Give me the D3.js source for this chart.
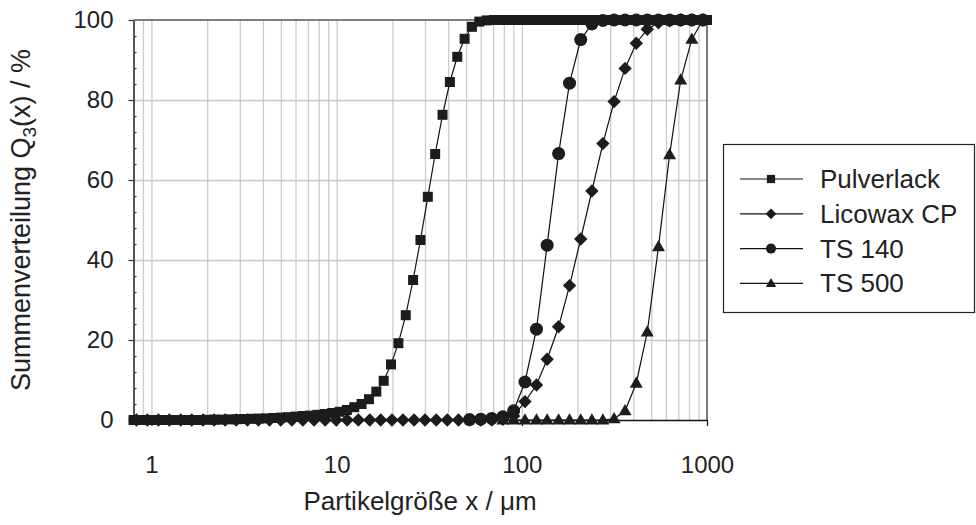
<!DOCTYPE html>
<html>
<head>
<meta charset="utf-8">
<script src="https://cdn.jsdelivr.net/npm/d3@7"></script>
<style>
  html, body { margin: 0; padding: 0; background: #fff; }
  svg { display: block; font-family: "Liberation Sans", Arial, sans-serif; }
</style>
</head>
<body>
<svg id="chart" width="976" height="525"></svg>
<script>
// Particle size classes of the powder coating measurement (µm)
const sizesPulverlack = [
  0.800, 0.877, 0.961, 1.053, 1.153, 1.264, 1.385, 1.518, 1.663, 1.823,
  1.997, 2.189, 2.398, 2.628, 2.880, 3.156, 3.458, 3.789, 4.152, 4.550,
  4.986, 5.463, 5.987, 6.560, 7.189, 7.878, 8.633, 9.459, 10.37, 11.36,
  12.45, 13.64, 14.95, 16.38, 17.95, 19.67, 21.55, 23.62, 25.88, 28.36,
  31.08, 34.05, 37.32, 40.89, 44.81, 49.10, 53.80, 58.95, 64.60, 70.79,
  77.57, 85.00, 93.14, 102.1, 111.8, 122.5, 134.3, 147.2, 161.3, 176.7,
  193.6, 212.2, 232.5, 254.8, 279.2, 305.9, 335.2, 367.4, 402.6, 441.1,
  483.4, 529.7, 580.4, 636.0, 697.0, 763.7, 836.8, 917.0, 1000
];
// Cumulative distribution Q3 of the powder coating (%)
const q3Pulverlack = [
  0, 0, 0, 0, 0, 0, 0, 0, 0, 0,
  0.05, 0.1, 0.1, 0.15, 0.2, 0.25, 0.3, 0.35, 0.4, 0.5,
  0.6, 0.7, 0.85, 1.0, 1.1, 1.3, 1.5, 1.75, 2.05, 2.5,
  3.2, 4.0, 5.2, 7.1, 9.8, 13.9, 19.2, 26.2, 35.0, 45.0,
  55.8, 66.5, 76.3, 84.5, 90.8, 95.3, 98.3, 99.6, 99.9, 100,
  100, 100, 100, 100, 100, 100, 100, 100, 100, 100,
  100, 100, 100, 100, 100, 100, 100, 100, 100, 100,
  100, 100, 100, 100, 100, 100, 100, 100, 100
];

// Size classes shared by the wax and the two TS measurements (µm)
const sizeClasses = [
  0.83, 0.95, 1.09, 1.25, 1.44, 1.65, 1.90, 2.18, 2.50, 2.87,
  3.30, 3.78, 4.34, 4.99, 5.73, 6.57, 7.55, 8.67, 9.95, 11.4,
  13.1, 15.1, 17.3, 19.9, 22.8, 26.2, 30.0, 34.5, 39.6, 45.5,
  52.2, 60.0, 68.8, 79.0, 90.3, 104, 120, 137, 158, 181,
  208, 239, 274, 315, 361, 415, 476, 547, 628, 721,
  828, 950
];
const q3Licowax = [
  0, 0, 0, 0, 0, 0, 0, 0, 0, 0,
  0, 0, 0, 0, 0, 0, 0, 0, 0, 0,
  0, 0, 0, 0, 0, 0, 0, 0, 0, 0,
  0, 0, 0, 0.2, 1.0, 4.6, 8.75, 15.2, 23.3, 33.6,
  45.25, 57.25, 69.1, 79.6, 87.9, 94.2, 97.7, 99.3, 99.8, 100,
  100, 100
];
const q3TS140 = [
  null, null, null, null, null, null, null, null, null, null,
  null, null, null, null, null, null, null, null, null, null,
  null, null, null, null, null, null, null, null, null, null,
  0.1, 0.2, 0.4, 0.8, 2.3, 9.5, 22.7, 43.7, 66.6, 84.2,
  95.1, 99.0, 99.9, 100, 100, 100, 100, 100, 100, 100,
  100, 100
];
const q3TS500 = [
  null, null, null, null, null, null, null, null, null, null,
  null, null, null, null, null, null, null, null, null, null,
  null, null, null, null, null, null, null, null, null, null,
  null, null, null, 0, 0, 0, 0, 0, 0, 0,
  0, 0, 0, 0.3, 2.3, 9.2, 22.0, 43.3, 66.3, 85.0,
  95.2, 100
];

const seriesNames = ["Pulverlack", "Licowax CP", "TS 140", "TS 500"];
const xTickValues = [1, 10, 100, 1000];
const yTickValues = [0, 20, 40, 60, 80, 100];

const svg = d3.select("#chart");
const plotLeft = 133.5, plotRight = 707, plotTop = 20, plotBottom = 420;
const FONT = "Liberation Sans, Arial, sans-serif";
const TEXT_COLOR = "#222";

const x = d3.scaleLog().domain([0.8, 1000]).range([plotLeft, plotRight]);
const y = d3.scaleLinear().domain([0, 100]).range([plotBottom, plotTop]);

// Marker shapes
const shapes = {
  square: (s) => `M${-s},${-s}H${s}V${s}H${-s}Z`,
  diamond: (s) => `M0,${-s}L${s},0L0,${s}L${-s},0Z`,
  circle: (s) => `M${s},0A${s},${s} 0 1,1 ${-s},0A${s},${s} 0 1,1 ${s},0Z`,
  triangle: (s) => `M0,${-s * 1.05}L${s},${s * 0.7}L${-s},${s * 0.7}Z`
};

// Grid: vertical lines at every 1..9 multiple of each decade
const minorX = [];
[0.1, 1, 10, 100].forEach(d => {
  for (let m = 1; m <= 9; m++) {
    const v = +(d * m).toPrecision(3);
    if (v >= 0.8 && v <= 1000) minorX.push(v);
  }
});
svg.append("g")
  .attr("transform", `translate(0,${plotBottom})`)
  .call(d3.axisBottom(x).tickValues(minorX).tickSize(-(plotBottom - plotTop)).tickFormat(""))
  .call(g => g.select(".domain").remove())
  .call(g => g.selectAll("line").attr("stroke", "#cbcbcb").attr("stroke-width", 1.3));

svg.append("g")
  .attr("transform", `translate(${plotLeft},0)`)
  .call(d3.axisRight(y).tickValues([20, 40, 60, 80]).tickSize(plotRight - plotLeft).tickFormat(""))
  .call(g => g.select(".domain").remove())
  .call(g => g.selectAll("line").attr("stroke", "#cbcbcb").attr("stroke-width", 1.3));

// Frame lines: top and right
svg.append("line").attr("x1", plotLeft).attr("x2", plotRight).attr("y1", plotTop).attr("y2", plotTop)
  .attr("stroke", "#555").attr("stroke-width", 1.5);
svg.append("line").attr("x1", plotRight).attr("x2", plotRight).attr("y1", plotTop).attr("y2", plotBottom)
  .attr("stroke", "#222").attr("stroke-width", 1.2);

// Y axis with minor ticks pointing inward
svg.append("g")
  .attr("transform", `translate(${plotLeft},0)`)
  .call(d3.axisRight(y).tickValues(d3.range(0, 101, 4).filter(v => v % 20 !== 0)).tickSize(3).tickFormat(""))
  .call(g => g.select(".domain").remove())
  .call(g => g.selectAll("line").attr("stroke", "#333").attr("stroke-width", 1.2));

svg.append("g")
  .attr("transform", `translate(${plotLeft},0)`)
  .call(d3.axisLeft(y).tickValues(yTickValues).tickSize(5).tickPadding(15).tickSizeOuter(0).tickFormat(d3.format("d")))
  .call(g => g.select(".domain").attr("stroke", "#555").attr("stroke-width", 2))
  .call(g => g.selectAll("line").attr("stroke", "#333").attr("stroke-width", 1.2))
  .call(g => g.selectAll("text").attr("font-size", 24).attr("fill", TEXT_COLOR).attr("font-family", FONT));

// X axis
svg.append("g")
  .attr("transform", `translate(0,${plotBottom})`)
  .call(d3.axisBottom(x).tickValues(xTickValues).tickSize(6).tickPadding(30).tickSizeOuter(0).tickFormat(d3.format("d")))
  .call(g => g.select(".domain").attr("stroke", "#111").attr("stroke-width", 1.5))
  .call(g => g.selectAll("line").attr("stroke", "#111").attr("stroke-width", 1.2))
  .call(g => g.selectAll("text").attr("font-size", 24).attr("fill", TEXT_COLOR).attr("font-family", FONT));

// Axis titles
svg.append("text")
  .attr("x", 420).attr("y", 510)
  .attr("text-anchor", "middle").attr("font-size", 26).attr("fill", TEXT_COLOR)
  .text("Partikelgröße x / μm");

const yTitle = svg.append("text")
  .attr("transform", "translate(30,220) rotate(-90)")
  .attr("text-anchor", "middle").attr("font-size", 27).attr("fill", TEXT_COLOR);
yTitle.append("tspan").text("Summenverteilung Q");
yTitle.append("tspan").attr("font-size", 19).attr("dy", 6).text("3");
yTitle.append("tspan").attr("dy", -6).text("(x) / %");

// Series (diamonds last so they sit on top of the zero row)
const series = [
  { name: seriesNames[0], xs: sizesPulverlack, ys: q3Pulverlack, shape: "square", s: 5.0 },
  { name: seriesNames[3], xs: sizeClasses, ys: q3TS500, shape: "triangle", s: 6.5 },
  { name: seriesNames[2], xs: sizeClasses, ys: q3TS140, shape: "circle", s: 6.5 },
  { name: seriesNames[1], xs: sizeClasses, ys: q3Licowax, shape: "diamond", s: 6.7 }
];

const line = d3.line().x(d => x(d[0])).y(d => y(d[1]));

series.forEach(sr => {
  const pts = sr.xs.map((v, i) => [v, sr.ys[i]]).filter(d => d[1] !== null);
  const g = svg.append("g");
  g.append("path").datum(pts).attr("d", line)
    .attr("fill", "none").attr("stroke", "#111").attr("stroke-width", 1.2);
  g.selectAll("path.m").data(pts).enter().append("path").attr("class", "m")
    .attr("transform", d => `translate(${x(d[0])},${y(d[1])})`)
    .attr("d", shapes[sr.shape](sr.s))
    .attr("fill", "#1c1c1c");
});

// Legend
const legend = svg.append("g");
legend.append("rect").attr("x", 723.5).attr("y", 144.5).attr("width", 251).attr("height", 168)
  .attr("fill", "#fff").attr("stroke", "#222").attr("stroke-width", 1.2);
const legendItems = [
  { name: seriesNames[0], shape: "square", s: 4.1 },
  { name: seriesNames[1], shape: "diamond", s: 5.4 },
  { name: seriesNames[2], shape: "circle", s: 5.0 },
  { name: seriesNames[3], shape: "triangle", s: 5.2 }
];
legendItems.forEach((it, i) => {
  const cy = 179 + i * 34.8;
  legend.append("line").attr("x1", 740).attr("x2", 803).attr("y1", cy).attr("y2", cy)
    .attr("stroke", "#111").attr("stroke-width", 1.2);
  legend.append("path").attr("transform", `translate(771,${cy})`)
    .attr("d", shapes[it.shape](it.s)).attr("fill", "#1c1c1c");
  legend.append("text").attr("x", 820).attr("y", cy + 9)
    .attr("font-size", 26).attr("fill", TEXT_COLOR).text(it.name);
});
</script>
</body>
</html>
